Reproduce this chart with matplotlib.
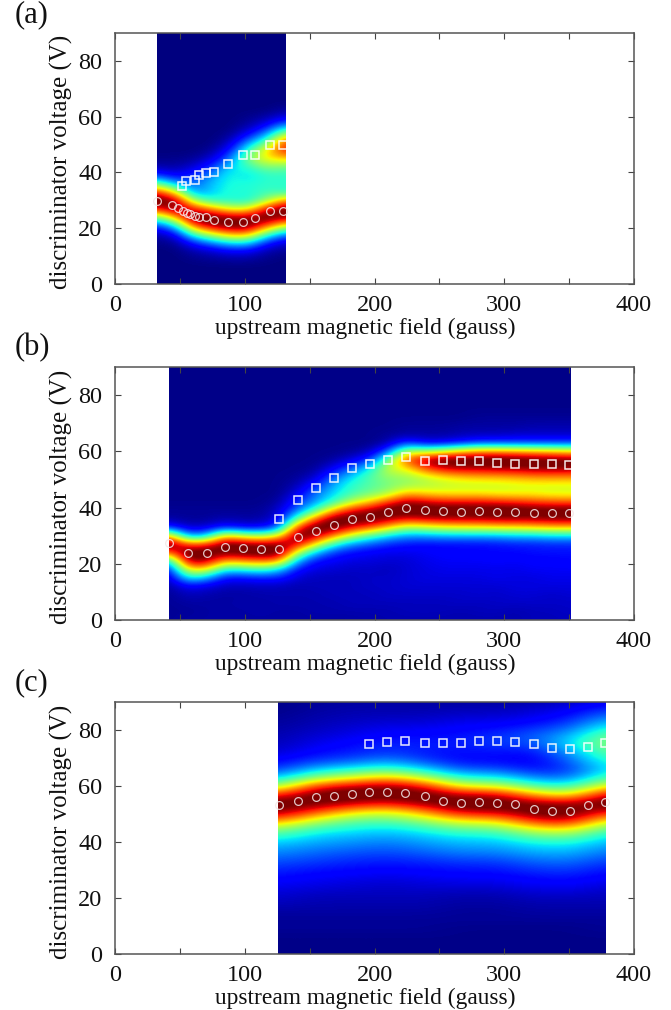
import numpy as np
import matplotlib
matplotlib.use('Agg')
import matplotlib.pyplot as plt
from matplotlib.patches import Rectangle

plt.rcParams['font.family'] = ['Liberation Serif', 'DejaVu Serif']

# intensity per column (percent of colour range), rows are voltage 0, 3, 6 ... 90 V
rows_v = np.arange(0, 91, 3)

a_field = [32, 46, 60, 74, 88, 102, 116, 130]
a_cols = [
    [0,0,0,0,0,1,4,17,46,82,100,82,46,17,4,1],
    [0,0,0,0,0,2,10,32,67,97,94,62,28,9,3,1],
    [0,0,0,1,4,15,42,78,100,85,50,24,20,15,7,2],
    [0,0,0,2,7,25,58,92,98,71,37,31,30,25,16,7,2],
    [0,0,0,3,11,35,71,98,92,58,37,37,36,36,32,22,12,5,1],
    [0,0,0,3,11,35,71,98,92,58,35,36,36,32,38,48,40,24,10,3,1],
    [0,0,0,1,4,15,42,78,100,85,50,40,38,38,48,62,62,42,24,10,3],
    [0,0,0,0,2,7,25,58,92,98,71,38,38,38,45,65,84,80,52,25,8,2],
]

b_field = [42, 56, 70, 84, 98, 112, 126, 140, 154, 168, 182, 196, 210, 224, 238, 252,
           266, 280, 294, 308, 322, 336, 350]
b_cols = [
    [2,2,2,2,3,5,12,30,75,100,68,15,3,2,1],
    [3,2,3,5,10,35,62,92,100,78,25,6,2,2,1],
    [3,3,3,4,8,28,62,92,100,80,28,7,2,2,1],
    [3,3,3,3,5,12,35,68,96,98,65,14,4,2,1],
    [3,3,4,3,5,12,36,72,98,96,55,10,3,2,1],
    [3,4,3,4,5,14,40,75,100,92,50,10,3,2,1],
    [3,3,4,4,5,14,32,72,100,95,60,18,8,6,3,1],
    [3,3,4,4,4,7,12,28,55,88,100,80,42,22,15,9,4,2,1],
    [3,4,4,4,5,5,8,12,30,62,92,100,75,40,26,22,14,6,2,1],
    [3,4,4,5,5,5,7,10,16,38,72,98,98,68,38,32,28,20,10,3,1],
    [3,4,5,5,5,5,6,8,12,25,55,85,100,85,55,40,38,32,20,8,2,1],
    [4,4,5,5,6,6,6,8,10,20,42,78,98,92,65,46,42,42,34,16,5,1],
    [4,4,5,6,6,6,5,7,9,15,32,65,92,100,80,52,46,50,56,46,20,4,2],
    [4,5,5,6,7,7,7,7,9,13,26,52,85,100,92,68,50,50,62,78,55,18,3,2],
    [4,5,5,6,7,8,8,9,10,12,26,55,88,100,88,64,52,56,78,92,52,10,3,2],
    [4,5,5,6,7,8,9,10,11,12,28,58,90,100,85,62,54,62,88,98,58,10,3,2],
    [4,4,6,6,7,8,9,10,12,12,28,60,90,100,85,62,55,66,90,100,66,14,4,3],
    [4,5,5,7,7,8,9,10,12,12,28,60,90,100,85,62,55,68,90,100,72,18,5,3,2],
    [4,5,6,6,7,9,9,11,12,13,28,62,92,100,84,60,56,68,92,100,72,18,5,3,2],
    [4,4,6,7,8,8,9,10,12,14,30,62,92,100,82,60,57,70,92,100,70,18,6,3,2],
    [5,5,6,7,8,8,10,11,13,14,30,64,92,98,80,60,58,72,94,98,68,18,6,4,2],
    [5,5,6,6,8,9,10,11,13,15,32,66,94,98,78,58,58,72,94,98,66,18,6,4,2],
    [5,6,6,7,8,9,10,12,13,15,32,66,94,98,78,58,58,72,94,96,64,18,6,4,2],
]

c_field = [126, 154, 182, 210, 238, 266, 294, 322, 350, 378]
c_cols = [
    [1,1,1,2,2,3,5,7,9,12,15,19,24,29,38,52,75,95,98,80,50,30,17,11,7,5,4,3,2,1,1],
    [1,1,1,2,2,3,4,5,8,10,13,17,21,26,31,40,58,80,97,98,80,50,30,17,12,9,7,5,4,3,2],
    [1,1,1,2,2,3,4,5,7,9,12,15,19,24,29,36,46,66,90,100,88,58,36,20,14,12,9,7,5,4,3],
    [1,1,1,2,2,3,4,5,6,8,11,14,18,22,27,33,44,60,85,99,93,68,42,26,17,15,12,9,6,4,3],
    [1,1,1,2,2,3,4,5,7,9,12,15,20,25,30,38,52,72,94,99,84,55,33,18,14,14,12,9,6,4,3],
    [1,1,1,1,2,2,3,4,7,10,13,17,23,28,34,46,66,90,100,88,58,36,20,12,12,14,13,11,8,5,3],
    [1,1,1,1,2,2,3,4,7,10,13,17,23,28,34,46,66,90,100,88,58,36,20,12,13,17,16,12,8,5,3],
    [1,1,1,1,2,3,4,6,9,12,16,21,27,33,44,62,85,99,93,68,42,24,13,10,12,18,20,15,10,7,4],
    [1,1,1,1,2,3,4,6,10,13,17,22,28,34,46,66,90,100,88,58,36,22,16,20,26,32,28,20,14,10,6],
    [1,1,1,2,2,3,4,5,7,10,13,17,22,27,33,44,62,85,100,88,62,42,34,38,44,50,46,36,26,17,10],
]

# markers
a_circ_x = [32.6, 43.7, 48.8, 52.7, 55.8, 57.8, 61.7, 64.8, 69.9, 76.3, 87.3, 98.4, 108.2, 119.5, 129.7]
a_circ_y = [29.9, 28.3, 27.4, 26.3, 25.6, 25.2, 24.4, 23.9, 23.9, 23.0, 22.3, 22.3, 23.5, 26.2, 26.2]
a_sq_x = [52, 54.5, 61.7, 64.8, 69.9, 76.3, 87.3, 98.4, 108.2, 119.5, 129.7]
a_sq_y = [35.2, 36.8, 37.2, 39.2, 39.8, 40.1, 43.2, 46.3, 46.3, 49.7, 49.7]

b_x = [42, 56.5, 70.6, 84.5, 98.4, 112.3, 126.2, 140.8, 154.7, 168.5, 182.4, 196.3, 210.2, 224,
       238.9, 252.6, 266.4, 280.3, 294.2, 308, 322.7, 336.6, 350]
b_circ_y = [27.3, 24, 24, 26.1, 25.5, 25.1, 25.1, 29.4, 31.6, 33.7, 35.8, 36.8, 38.3, 39.7,
            39.3, 38.8, 38.4, 38.8, 38.4, 38.4, 38, 38, 38]
b_sq_y = [35.8, 42.8, 47, 50.5, 54, 55.6, 56.8, 58.1, 56.5, 56.9, 56.5, 56.5, 56, 55.5, 55.5, 55.5, 55]

c_x = [126.4, 140.8, 154.7, 168.5, 182.4, 196, 209.9, 223.7, 238.6, 252.5, 266.4, 280.3, 294.1,
       308, 322.9, 336.8, 350.7, 364.6, 377.6]
c_circ_y = [53.1, 54.8, 56.1, 56.5, 57, 57.9, 57.9, 57.4, 56.5, 54.8, 53.9, 54.3, 53.9, 53.4,
            51.8, 51, 51, 53.1, 54.4]
c_sq_y = [74.9, 75.7, 76.2, 75.2, 75.2, 75.2, 76.2, 76.2, 75.7, 74.9, 73.6, 73.2, 74, 75.4]

panel_labels = ['(a)', '(b)', '(c)']
x_ticks = [0, 50, 100, 150, 200, 250, 300, 350, 400]
x_tick_labels = ['0', '', '100', '', '200', '', '300', '', '400']
y_ticks = [0, 20, 40, 60, 80]

W, H = 671, 1010
fig = plt.figure(figsize=(W / 100, H / 100), dpi=100)


def draw_panel(top, bottom, label, label_y, fields, cols, x0, x1, circ, sq, pad_val):
    ax = fig.add_axes([115 / W, 1 - bottom / H, (634 - 115) / W, (bottom - top) / H])
    z = np.array([c + [pad_val] * (len(rows_v) - len(c)) for c in cols], dtype=float).T
    dx = fields[1] - fields[0]
    im = ax.imshow(z, origin='lower', aspect='auto', cmap='jet', vmin=0, vmax=94,
                   extent=[fields[0] - dx / 2, fields[-1] + dx / 2, -1.5, 91.5],
                   interpolation='bicubic', interpolation_stage='data')
    im.set_clip_path(Rectangle((x0, 0), x1 - x0, 90, transform=ax.transData))

    ax.plot(circ[0], circ[1], 'o', mfc='none', mec='#f4e6e6', mew=0.9, ms=5.6, alpha=0.85, clip_on=False)
    ax.plot(sq[0], sq[1], 's', mfc='none', mec='white', mew=1.1, ms=6.0, alpha=0.9, clip_on=False)

    ax.set_xlim(0, 400)
    ax.set_ylim(0, 90)
    ax.set_xticks(x_ticks)
    ax.set_xticklabels(x_tick_labels)
    ax.set_yticks(y_ticks)
    ax.tick_params(direction='in', top=True, right=True, length=4, width=0.8,
                   color='#444444', labelsize=17.5, labelcolor='#111111')
    ax.tick_params(axis='y', pad=9)
    ax.tick_params(axis='x', pad=8)
    for s in ax.spines.values():
        s.set_color('#555555')
        s.set_linewidth(1.1)
    ax.set_xlabel('upstream magnetic field (gauss)', fontsize=16.9, labelpad=1, color='#111111')
    ax.xaxis.label.set_x((365 - 115) / (634 - 115))
    ax.set_ylabel('discriminator voltage (V)', fontsize=18, labelpad=4, color='#111111')
    ax.yaxis.label.set_y(0.485)
    fig.text(15 / W, 1 - label_y / H, label, fontsize=22, va='center', ha='left', color='#111111')
    return ax


draw_panel(33, 284, panel_labels[0], 15, a_field, a_cols, 32, 131,
           (a_circ_x, a_circ_y), (a_sq_x, a_sq_y), 0)
draw_panel(367, 620, panel_labels[1], 348, b_field, b_cols, 41.6, 350.7,
           (b_x, b_circ_y), (b_x[6:], b_sq_y), 1)
draw_panel(702, 954, panel_labels[2], 683, c_field, c_cols, 125.6, 378,
           (c_x, c_circ_y), (c_x[5:], c_sq_y), 1)

fig.savefig('out.png', dpi=100)
